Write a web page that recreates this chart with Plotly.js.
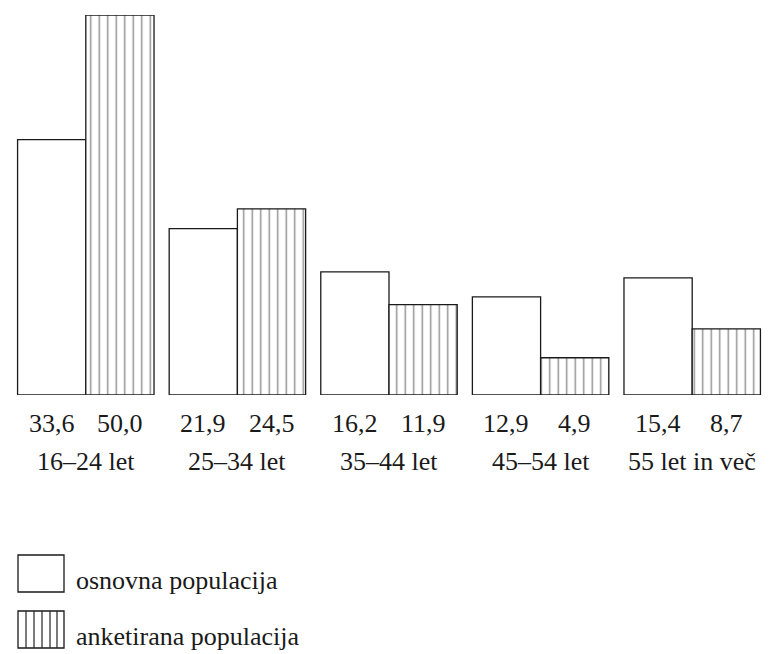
<!DOCTYPE html>
<html>
<head>
<meta charset="utf-8">
<script src="https://cdn.plot.ly/plotly-3.0.1.min.js"></script>
<style>html,body{margin:0;padding:0;background:#fff;}#chart{width:776px;height:654px;}</style>
</head>
<body>
<div id="chart"></div>
<script>
// ---- data ----
var categories = ["16–24 let", "25–34 let", "35–44 let", "45–54 let", "55 let in več"];
var osnovna = [33.6, 21.9, 16.2, 12.9, 15.4];
var anketirana = [50.0, 24.5, 11.9, 4.9, 8.7];
var seriesNames = ["osnovna populacija", "anketirana populacija"];
var osnovnaLabels = ["33,6", "21,9", "16,2", "12,9", "15,4"];
var anketiranaLabels = ["50,0", "24,5", "11,9", "4,9", "8,7"];

// ---- layout constants ----
var W = 776, H = 654;
var M = {l: 10, r: 8, t: 15, b: 259};
var plotW = W - M.l - M.r, plotH = H - M.t - M.b;
function px(x) { return (x - M.l) / plotW; }
function py(y) { return (H - M.b - y) / plotH; }

var FONT = "Liberation Serif, Times New Roman, serif";
var INK = "#1a1a1a";
var barGap = 0.1;
var barW = (1 - barGap) / 2;

var idx = categories.map(function (_, i) { return i; });

var traces = [
  {
    type: "bar", name: seriesNames[0], x: idx, y: osnovna,
    width: barW, offset: -barW,
    marker: {color: "#ffffff", line: {color: INK, width: 1.3}},
    hoverinfo: "x+y"
  },
  {
    type: "bar", name: seriesNames[1], x: idx, y: anketirana,
    width: barW, offset: 0,
    marker: {
      color: "#ffffff",
      line: {color: INK, width: 1.3},
      pattern: {shape: "|", size: 8.5, solidity: 0.17, fgcolor: "#222", bgcolor: "#ffffff", fillmode: "overlay"}
    },
    hoverinfo: "x+y"
  }
];

var annotations = [];
idx.forEach(function (i) {
  annotations.push({x: i - barW / 2, y: 0, xref: "x", yref: "y", text: osnovnaLabels[i],
    showarrow: false, yanchor: "middle", xanchor: "center", yshift: -28,
    font: {family: FONT, size: 26, color: INK}});
  annotations.push({x: i + barW / 2, y: 0, xref: "x", yref: "y", text: anketiranaLabels[i],
    showarrow: false, yanchor: "middle", xanchor: "center", yshift: -28,
    font: {family: FONT, size: 26, color: INK}});
  annotations.push({x: i, y: 0, xref: "x", yref: "y", text: categories[i],
    showarrow: false, yanchor: "middle", xanchor: "center", yshift: -66,
    font: {family: FONT, size: 26, color: INK}});
});

// custom legend
annotations.push({x: px(74), y: py(580), xref: "paper", yref: "paper", text: seriesNames[0],
  showarrow: false, xanchor: "left", yanchor: "middle", font: {family: FONT, size: 26, color: INK}});
annotations.push({x: px(74), y: py(636), xref: "paper", yref: "paper", text: seriesNames[1],
  showarrow: false, xanchor: "left", yanchor: "middle", font: {family: FONT, size: 26, color: INK}});

var shapes = [
  {type: "rect", xref: "paper", yref: "paper", x0: px(18), x1: px(64), y0: py(555), y1: py(592),
   line: {color: INK, width: 1.3}, fillcolor: "#fff"},
  {type: "rect", xref: "paper", yref: "paper", x0: px(18), x1: px(64), y0: py(611), y1: py(648),
   line: {color: INK, width: 1.3}, fillcolor: "#fff"}
];
[26, 34, 42, 50, 57].forEach(function (xv) {
  shapes.push({type: "line", xref: "paper", yref: "paper", x0: px(xv), x1: px(xv), y0: py(611), y1: py(648),
    line: {color: "#222", width: 1.2}});
});

var layout = {
  width: W, height: H,
  margin: M,
  paper_bgcolor: "#fff", plot_bgcolor: "#fff",
  showlegend: false,
  barmode: "overlay",
  xaxis: {range: [-0.5, 4.5], showgrid: false, zeroline: false, showline: false,
          showticklabels: false, ticks: "", fixedrange: true},
  yaxis: {range: [0, 50], showgrid: false, zeroline: false, showline: false,
          showticklabels: false, ticks: "", fixedrange: true},
  annotations: annotations,
  shapes: shapes
};

Plotly.newPlot("chart", traces, layout, {displayModeBar: false, staticPlot: true});
</script>
</body>
</html>
